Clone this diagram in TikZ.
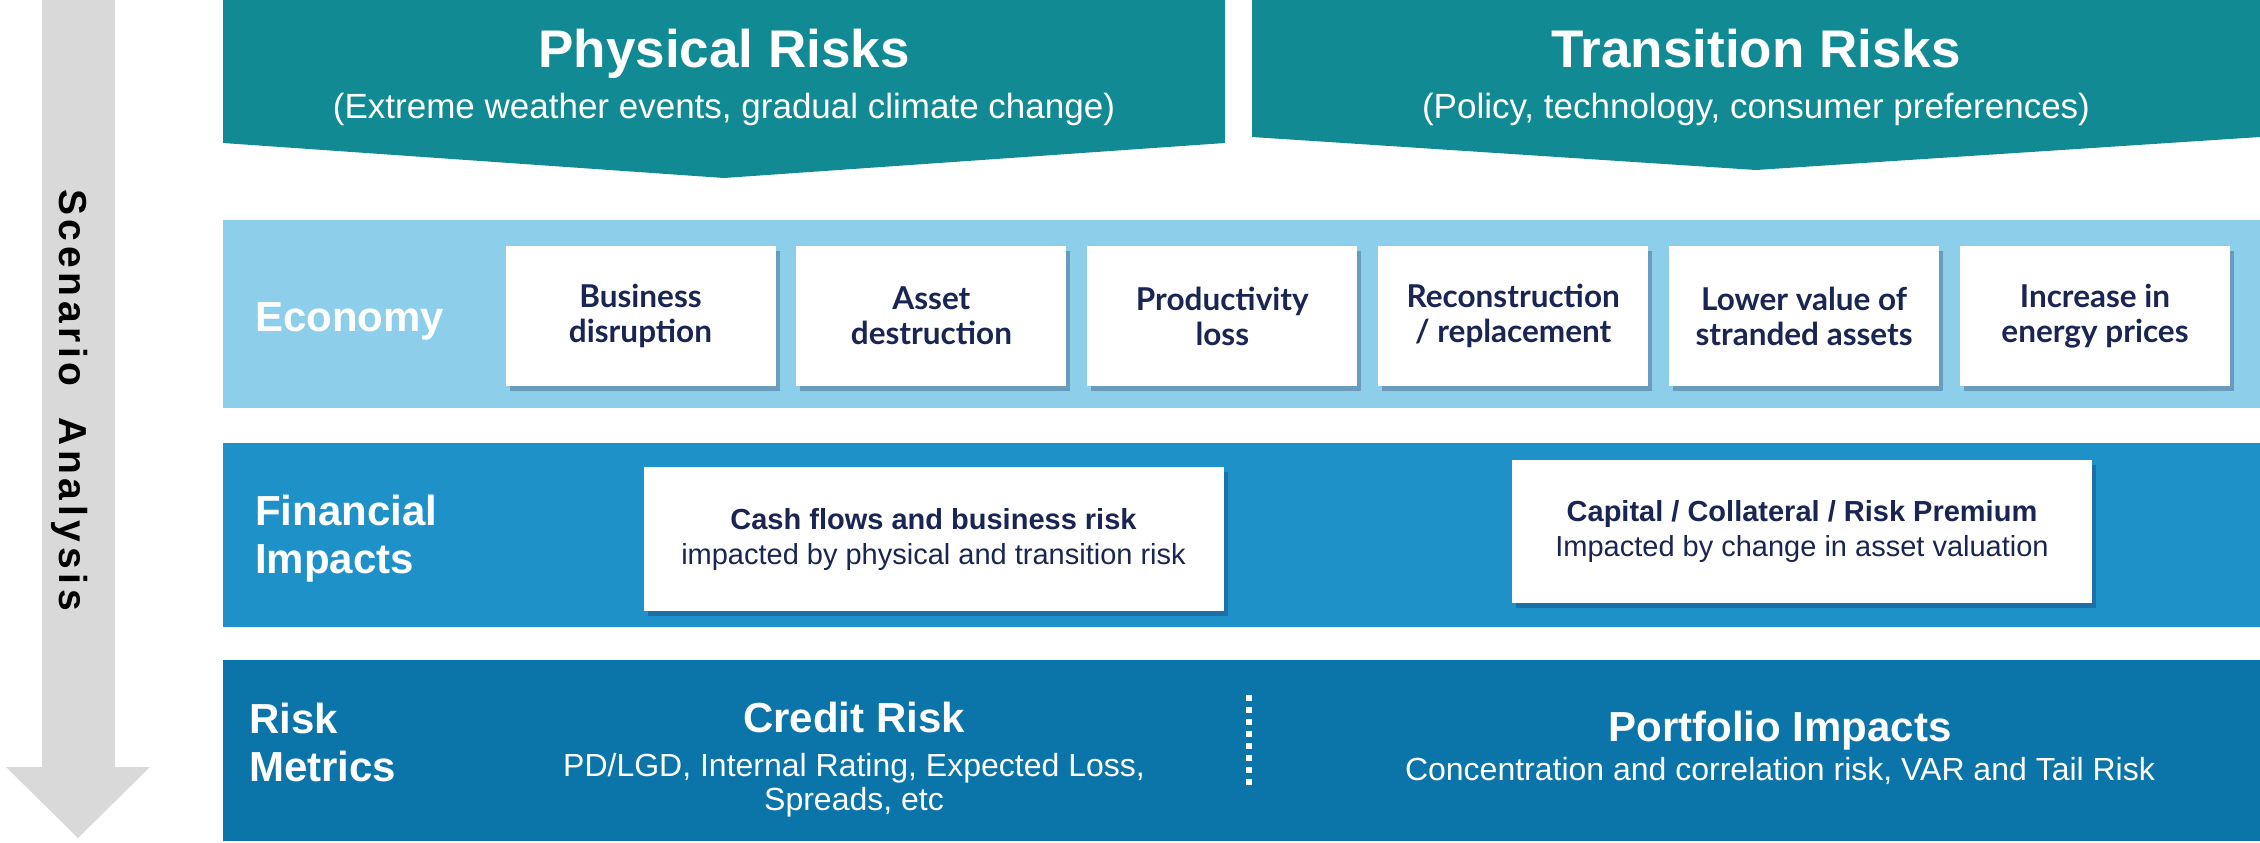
\documentclass[tikz,border=0pt]{standalone}
\usepackage{fontspec}
\setmainfont{Liberation Sans}
\newfontfamily\boxfont{Lato}
\newfontfamily\spacedfont[LetterSpace=12]{Liberation Sans}
\usetikzlibrary{positioning,shadows}
\definecolor{figteal}{RGB}{17,138,148}
\definecolor{figsky}{RGB}{141,207,235}
\definecolor{figblue}{RGB}{30,145,201}
\definecolor{figdeep}{RGB}{11,116,168}
\definecolor{fignavy}{RGB}{27,37,83}
\definecolor{figgray}{RGB}{217,217,217}
\tikzset{
  bannertitle/.style={text=white, inner sep=0pt, font=\fontsize{53}{60}\selectfont\bfseries},
  bannersub/.style={text=white, inner sep=0pt, font=\fontsize{35}{40}\selectfont},
  band/.style={rectangle, minimum width=2037pt, inner sep=0pt},
  bandlabel/.style={text=white, inner sep=0pt, align=left,
    font=\fontsize{42}{48}\selectfont\bfseries},
  boxshadow/.style={drop shadow={shadow xshift=4pt, shadow yshift=-5pt,
    fill=fignavy, opacity=0.3}},
  impact/.style={
    rectangle, fill=white, minimum width=270pt, minimum height=140pt,
    inner sep=0pt, align=center, text=fignavy,
    font=\boxfont\fontsize{31.5}{35}\selectfont\bfseries, boxshadow
  },
  channel/.style={
    rectangle, fill=white, minimum width=580pt, minimum height=144pt,
    inner sep=0pt, align=center, text=fignavy,
    font=\fontsize{29}{35}\selectfont, boxshadow
  },
  metrictitle/.style={text=white, inner sep=0pt, font=\fontsize{42}{48}\selectfont\bfseries},
  metrictext/.style={text=white, inner sep=0pt, align=center, font=\fontsize{32}{34}\selectfont},
  divider/.style={draw=white, line width=6pt, dash pattern=on 6pt off 6pt}
}

\begin{document}
\begin{tikzpicture}[x=1pt, y=-1pt, node distance=20.5pt]
  \useasboundingbox (0,0) rectangle (2260,843);

  % scenario arrow
  \fill[figgray] (42,0) -- (115,0) -- (115,767) -- (150,767) -- (78,838)
    -- (6,767) -- (42,767) -- cycle;
  \node[rotate=-90, inner sep=0pt,
    font=\spacedfont\fontsize{39}{44}\selectfont\bfseries] (scenario) at (70,400)
    {Scenario\ \ Analysis};

  % risk banners
  \fill[figteal] (223,0) -- (1225,0) -- (1225,143) -- (724,178) -- (223,143) -- cycle;
  \fill[figteal] (1252,0) -- (2260,0) -- (2260,137) -- (1756,170) -- (1252,137) -- cycle;
  \node[bannertitle, anchor=base] (physical) at (724,68) {Physical Risks};
  \node[bannersub, anchor=base] (physicalsub) at (724,118)
    {(Extreme weather events, gradual climate change)};
  \node[bannertitle, anchor=base] (transition) at (1756,68) {Transition Risks};
  \node[bannersub, anchor=base] (transitionsub) at (1756,118)
    {(Policy, technology, consumer preferences)};

  % bands
  \node[band, fill=figsky, minimum height=188pt] (economy) at (1241.5,314) {};
  \node[band, fill=figblue, minimum height=184pt] (finance) at (1241.5,535) {};
  \node[band, fill=figdeep, minimum height=181pt] (metrics) at (1241.5,750.5) {};
  \node[bandlabel, anchor=base west] (economylabel) at (255,331) {Economy};
  \node[bandlabel, anchor=west] (financelabel) at (255,539) {Financial\\Impacts};
  \node[bandlabel, anchor=west] (metricslabel) at (249,742) {Risk\\Metrics};

  % economy channels
  \node[impact] (disrupt) at (640.5,316) {Business\\disruption};
  \node[impact, right=of disrupt] (destruct) {Asset\\destruction};
  \node[impact, right=of destruct] (product) {Productivity\\loss};
  \node[impact, right=of product] (rebuild) {Reconstruction\\/ replacement};
  \node[impact, right=of rebuild] (stranded) {Lower value of\\stranded assets};
  \node[impact, right=of stranded] (energy) {Increase in\\energy prices};

  % financial impacts
  \node[channel] (cashflow) at (933.5,539)
    {\textbf{Cash flows and business risk}\\impacted by physical and transition risk};
  \node[channel, minimum height=143pt] (capital) at (1802,531.5)
    {\textbf{Capital / Collateral / Risk Premium}\\Impacted by change in asset valuation};

  % risk metrics
  \node[metrictitle, anchor=base] (credit) at (854,732) {Credit Risk};
  \node[metrictext, below=20pt of credit] (creditsub)
    {PD/LGD, Internal Rating, Expected Loss,\\Spreads, etc};
  \node[metrictitle, anchor=base] (portfolio) at (1780,741) {Portfolio Impacts};
  \node[metrictext, below=7pt of portfolio] (portfoliosub)
    {Concentration and correlation risk, VAR and Tail Risk};
  \coordinate (divtop) at (1249,695);
  \coordinate (divbot) at (1249,786);
  \draw[divider] (divtop) -- (divbot);
\end{tikzpicture}
\end{document}
